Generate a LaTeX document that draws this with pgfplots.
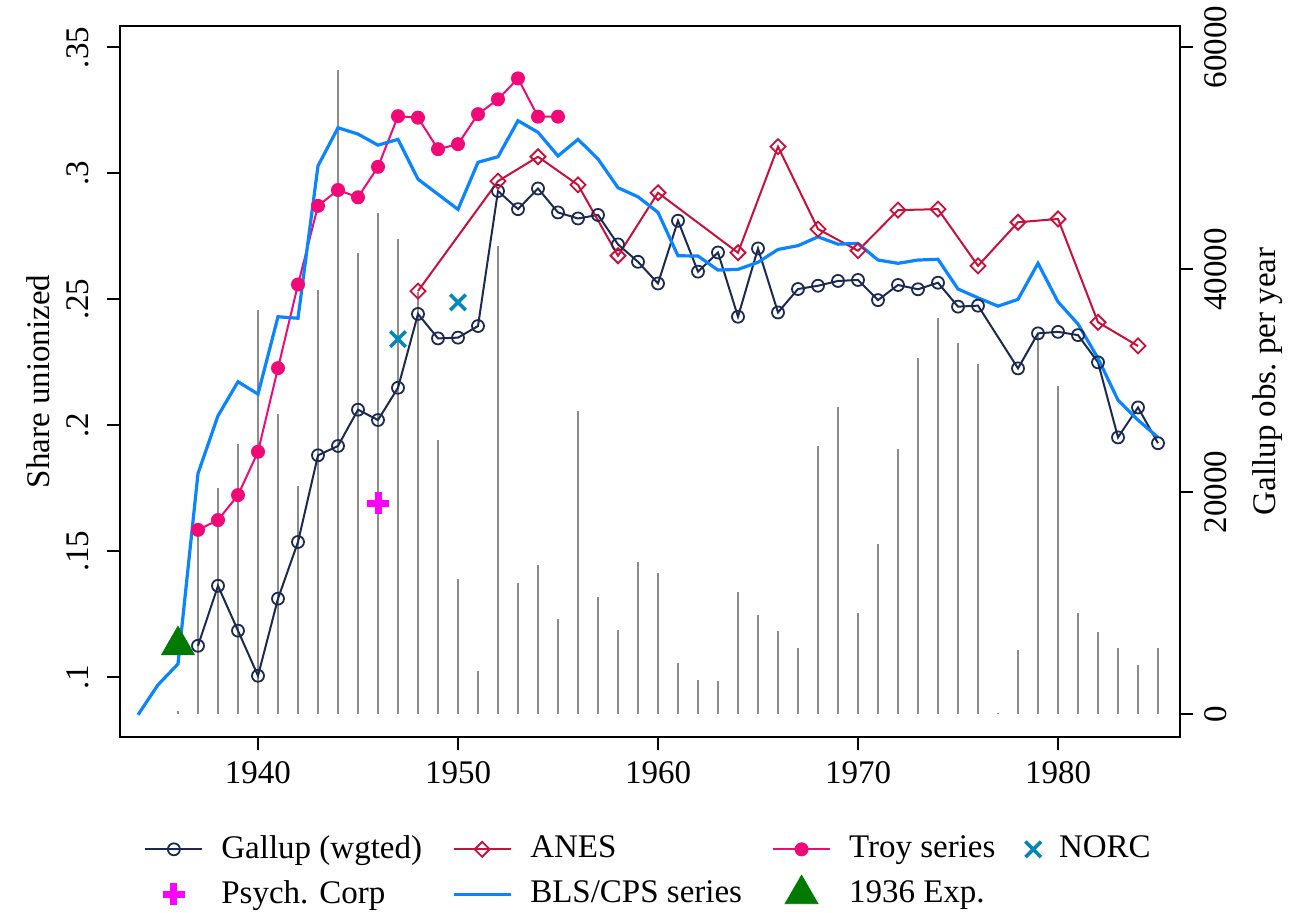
\documentclass[border=0pt]{standalone}
\usepackage{fontspec}
\setmainfont{Liberation Serif}
\usepackage{pgfplots}
\pgfplotsset{compat=1.18}
\usepackage{pgfplotstable}

\definecolor{gnavy}{RGB}{28,42,82}
\definecolor{anes}{RGB}{200,16,58}
\definecolor{troy}{RGB}{240,10,120}
\definecolor{bls}{RGB}{10,132,255}
\definecolor{norc}{RGB}{0,136,184}
\definecolor{psych}{RGB}{255,0,255}
\definecolor{expg}{RGB}{0,122,0}
\definecolor{spk}{RGB}{140,140,140}

\pgfplotstableread{
year obs
1936 300
1937 16500
1938 20400
1939 24300
1940 36400
1941 27000
1942 20500
1943 38200
1944 57900
1945 41500
1946 45100
1947 42700
1948 38000
1949 24700
1950 12200
1951 3900
1952 42100
1953 11850
1954 13400
1955 8600
1956 27300
1957 10600
1958 7600
1959 13700
1960 12750
1961 4600
1962 3100
1963 3000
1964 11000
1965 8900
1966 7500
1967 6000
1968 24100
1969 27600
1970 9100
1971 15300
1972 23900
1973 32000
1974 35600
1975 33400
1976 31500
1977 150
1978 5800
1979 34300
1980 29500
1981 9100
1982 7400
1983 6000
1984 4450
1985 6000
}\obstab

\pgfplotstableread{
year v
1937 0.1125
1938 0.1363
1939 0.1185
1940 0.1006
1941 0.1312
1942 0.1537
1943 0.1881
1944 0.1918
1945 0.2062
1946 0.2021
1947 0.2149
1948 0.2442
1949 0.2345
1950 0.2348
1951 0.2394
1952 0.2930
1953 0.2858
1954 0.2940
1955 0.2845
1956 0.2821
1957 0.2835
1958 0.2718
1959 0.2649
1960 0.2563
1961 0.2812
1962 0.2610
1963 0.2686
1964 0.2431
1965 0.2702
1966 0.2448
1967 0.2541
1968 0.2554
1969 0.2573
1970 0.2577
1971 0.2497
1972 0.2557
1973 0.2540
1974 0.2566
1975 0.2471
1976 0.2475
1978 0.2226
1979 0.2365
1980 0.2371
1981 0.2358
1982 0.2250
1983 0.1952
1984 0.2071
1985 0.1929
}\galluptab

\pgfplotstableread{
year v
1948 0.2533
1952 0.2969
1954 0.3066
1956 0.2954
1958 0.2673
1960 0.2923
1964 0.2685
1966 0.3106
1968 0.2779
1970 0.2693
1972 0.2854
1974 0.2858
1976 0.2633
1978 0.2806
1980 0.2819
1982 0.2409
1984 0.2315
}\anestab

\pgfplotstableread{
year v
1937 0.1585
1938 0.1624
1939 0.1723
1940 0.1895
1941 0.2227
1942 0.2559
1943 0.2871
1944 0.2934
1945 0.2905
1946 0.3026
1947 0.3227
1948 0.3221
1949 0.3096
1950 0.3116
1951 0.3235
1952 0.3294
1953 0.3377
1954 0.3225
1955 0.3225
}\troytab

\pgfplotstableread{
year v
1934 0.0851
1935 0.0970
1936 0.1053
1937 0.1809
1938 0.2038
1939 0.2173
1940 0.2124
1941 0.2431
1942 0.2425
1943 0.3030
1944 0.3181
1945 0.3156
1946 0.3112
1947 0.3135
1948 0.2977
1949 0.2917
1950 0.2857
1951 0.3044
1952 0.3066
1953 0.3209
1954 0.3163
1955 0.3069
1956 0.3135
1957 0.3057
1958 0.2943
1959 0.2907
1960 0.2845
1961 0.2673
1962 0.2672
1963 0.2616
1964 0.2619
1965 0.2647
1966 0.2698
1967 0.2713
1968 0.2748
1969 0.2719
1970 0.2722
1971 0.2656
1972 0.2643
1973 0.2656
1974 0.2659
1975 0.2541
1976 0.2506
1977 0.2473
1978 0.2500
1979 0.2643
1980 0.2490
1981 0.2402
1982 0.2266
1983 0.2100
1984 0.2021
1985 0.1952
}\blstab

\begin{document}
\fontsize{16.5}{19.8}\selectfont
\begin{tikzpicture}
\pgfplotsset{
  every axis/.append style={
    width=530pt, height=355.5pt, scale only axis,
    xmin=1933.1, xmax=1986.1,
    font=\fontsize{16.5}{19.8}\selectfont,
    tick align=outside, major tick length=6.5pt,
    every tick/.style={black, line width=1pt},
    axis line style={line width=1pt, black},
  },
  myleg/.style={legend image code/.code={%
    \draw[mark repeat=2,mark phase=2,##1] plot coordinates {(0pt,0pt) (14.25pt,0pt) (28.5pt,0pt)};}},
}
% right axis: Gallup observations (spikes)
\begin{axis}[
  axis x line=none, axis y line*=right,
  ymin=-2022, ymax=61888, scaled y ticks=false,
  ytick={0,20000,40000,60000}, yticklabels={0,20000,40000,60000},
  yticklabel style={rotate=90, anchor=north},
  ylabel={Gallup obs.\ per year},
  ylabel style={at={(axis description cs:1.083,0.5)}, anchor=center},
]
\addplot[ycomb, spk, line width=1pt] table[x=year,y=obs] {\obstab};
\end{axis}
% left axis: share unionized
\begin{axis}[
  ymin=0.0763, ymax=0.3585,
  xtick={1940,1950,1960,1970,1980}, xticklabels={1940,1950,1960,1970,1980},
  ytick={0.1,0.15,0.2,0.25,0.3,0.35}, yticklabels={.1,.15,.2,.25,.3,.35},
  xtick pos=left, ytick pos=left,
  yticklabel style={rotate=90, anchor=south, inner ysep=9pt},
  ylabel={Share unionized},
  ylabel style={at={(axis description cs:-0.0774,0.5)}, anchor=center},
  legend columns=4,
  legend cell align=left,
  legend style={draw=none, fill=none, at={(rel axis cs:0,0)}, anchor=north west,
    xshift=12pt, yshift=-47pt, inner xsep=0pt, inner ysep=0pt, row sep=4pt,
    font=\fontsize{16.5}{19.8}\selectfont,
    /tikz/every odd column/.append style={column sep=7pt},
    /tikz/every even column/.append style={column sep=13pt}},
]
\coordinate (SW) at (rel axis cs:0,0);
% 1936 experiment triangle (drawn underneath)
\addplot[only marks, mark=triangle*, mark size=9.5pt, color=expg, forget plot] coordinates {(1936,0.1127)};
\addplot[myleg, gnavy, line width=1pt, mark=o, mark size=3pt, mark options={line width=0.9pt}] table[x=year,y=v] {\galluptab};
\addlegendentry{Gallup (wgted)}
\addplot[myleg, anes, line width=1pt, mark=square, mark size=2.65pt, mark options={rotate=45, line width=0.9pt}] table[x=year,y=v] {\anestab};
\addlegendentry{ANES}
\addplot[myleg, troy, line width=1pt, mark=*, mark size=3pt, mark options={fill=troy}] table[x=year,y=v] {\troytab};
\addlegendentry{Troy series}
\addplot[myleg, only marks, norc, mark=x, mark size=5.5pt, mark options={line width=1.8pt}] coordinates {(1947,0.2342) (1950,0.2488)};
\addlegendentry{NORC}
\addplot[myleg, only marks, psych, mark=+, mark size=5.5pt, mark options={line width=3.5pt}] coordinates {(1946,0.1690)};
\addlegendentry{Psych. Corp}
\addplot[myleg, bls, line width=1.6pt, no marks] table[x=year,y=v] {\blstab};
\addlegendentry{BLS/CPS series}
\addlegendimage{myleg, only marks, mark=triangle*, mark size=9.5pt, color=expg}
\addlegendentry{1936 Exp.}
\end{axis}
\pgfresetboundingbox
\path (SW) ++(-60pt,-88pt) rectangle ++(648.5pt,456.5pt);
\end{tikzpicture}
\end{document}
